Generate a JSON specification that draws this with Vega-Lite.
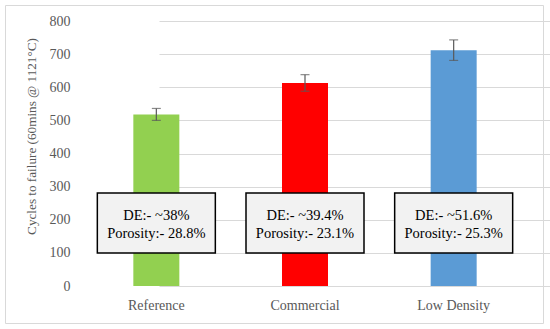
{
  "$schema": "https://vega.github.io/schema/vega-lite/v6.json",
  "width": 538,
  "height": 318,
  "autosize": {"type": "none"},
  "padding": {"left": 5, "top": 5, "right": 7, "bottom": 6},
  "background": "white",
  "config": {
    "view": {"stroke": "#d9d9d9", "strokeWidth": 1},
    "font": "Liberation Serif",
    "axis": {"labelFont": "Liberation Serif", "titleFont": "Liberation Serif", "labelColor": "#595959", "titleColor": "#595959"},
    "axisY": {"offset": -77, "labelOverlap": false, "ticks": false, "domain": false, "gridColor": "#d9d9d9", "gridWidth": 1, "labelFontSize": 14, "labelPadding": 12, "titleFontSize": 13.2, "titleFontWeight": "normal", "titlePadding": 11, "titleY": 131}
  },
  "data": {
    "values": [
      {"category": "Reference", "cycles": 518, "low": 500, "high": 536, "label": "DE:- ~38%\nPorosity:- 28.8%"},
      {"category": "Commercial", "cycles": 613, "low": 588, "high": 638, "label": "DE:- ~39.4%\nPorosity:- 23.1%"},
      {"category": "Low Density", "cycles": 712, "low": 681, "high": 743, "label": "DE:- ~51.6%\nPorosity:- 25.3%"}
    ]
  },
  "encoding": {
    "x": {
      "field": "category", "type": "nominal", "sort": null,
      "scale": {"paddingInner": 0, "paddingOuter": 0, "range": [77, 523]},
      "axis": {"title": null, "offset": -37, "grid": false, "labelAngle": 0, "ticks": false, "domain": false, "labelFontSize": 14, "labelPadding": 12}
    }
  },
  "layer": [
    {
      "mark": {"type": "bar", "width": 46},
      "encoding": {
        "y": {
          "field": "cycles", "type": "quantitative",
          "scale": {"domain": [0, 800], "nice": false, "range": [281, 16]},
          "axis": {"title": "Cycles to failure (60mins @ 1121°C)", "values": [0,100,200,300,400,500,600,700,800]}
        },
        "color": {
          "field": "category", "type": "nominal", "sort": null,
          "scale": {"domain": ["Reference", "Commercial", "Low Density"], "range": ["#92D050", "#FF0000", "#5B9BD5"]},
          "legend": null
        }
      }
    },
    {
      "mark": {"type": "rule", "color": "#595959", "strokeWidth": 1.2},
      "encoding": {"y": {"field": "low", "type": "quantitative", "axis": {"title": "Cycles to failure (60mins @ 1121°C)", "values": [0,100,200,300,400,500,600,700,800]}}, "y2": {"field": "high"}}
    },
    {
      "mark": {"type": "tick", "color": "#595959", "size": 9, "thickness": 1.2},
      "encoding": {"y": {"field": "low", "type": "quantitative", "axis": {"title": "Cycles to failure (60mins @ 1121°C)", "values": [0,100,200,300,400,500,600,700,800]}}}
    },
    {
      "mark": {"type": "tick", "color": "#595959", "size": 9, "thickness": 1.2},
      "encoding": {"y": {"field": "high", "type": "quantitative", "axis": {"title": "Cycles to failure (60mins @ 1121°C)", "values": [0,100,200,300,400,500,600,700,800]}}}
    },
    {
      "mark": {"type": "bar", "width": 118, "fill": "#F2F2F2", "stroke": "black", "strokeWidth": 1.5},
      "encoding": {"y": {"datum": 281, "type": "quantitative", "axis": {"title": "Cycles to failure (60mins @ 1121°C)", "values": [0,100,200,300,400,500,600,700,800]}}, "y2": {"datum": 100}}
    },
    {
      "mark": {"type": "text", "lineBreak": "\n", "fontSize": 14.5, "color": "black", "lineHeight": 18},
      "encoding": {"y": {"datum": 210, "type": "quantitative", "axis": {"title": "Cycles to failure (60mins @ 1121°C)", "values": [0,100,200,300,400,500,600,700,800]}}, "text": {"field": "label"}}
    }
  ]
}
